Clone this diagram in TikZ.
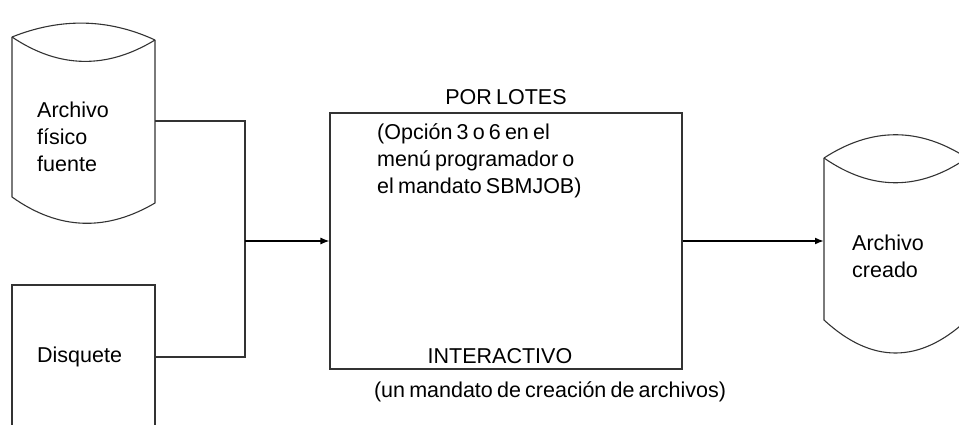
\documentclass[tikz,border=0pt]{standalone}
\usepackage{fontspec}
\setmainfont{Liberation Sans}[WordSpace=0.7]
\usetikzlibrary{arrows.meta,positioning}
\tikzset{
  ln/.style={draw=black!80, line width=1.1pt},
  lbl/.style={font=\fontsize{21.5}{27}\selectfont, align=left, inner sep=0pt},
  arr/.style={-{Latex[length=9pt,width=7pt]}, line width=1.4pt},
}
\begin{document}
\begin{tikzpicture}[x=1pt,y=-1pt]
\pgfmathsetmacro{\cw}{143}
\useasboundingbox (0,0) rectangle (959,425);
\begin{scope}
\clip (0,0) rectangle (959,425);
% source file (cylinder)
\draw[ln] (12,37) .. controls (12+\cw/3,18) and (12+2*\cw/3,18) .. (12+\cw,40);
\draw[ln] (12,37) .. controls (12+\cw/3,69) and (12+2*\cw/3,69) .. (12+\cw,40);
\draw[ln] (12,37) -- (12,197) .. controls (12+\cw/3,231) and (12+2*\cw/3,231) .. (12+\cw,203) -- (12+\cw,40);
\node[lbl, anchor=west] (src) at (37,137) {Archivo\\físico\\fuente};
\coordinate (srcR) at (12+\cw,121);
% diskette
\draw[ln] (12,440) -- (12,285) -- (12+\cw,285) -- (12+\cw,440);
\node[lbl, anchor=west] (dsk) at (37,357) {Disquete};
\coordinate (dskR) at (12+\cw,357);
% created file (cylinder)
\draw[ln] (824,158) .. controls (824+\cw/3,127) and (824+2*\cw/3,127) .. (824+\cw,158);
\draw[ln] (824,158) .. controls (824+\cw/3,191) and (824+2*\cw/3,191) .. (824+\cw,158);
\draw[ln] (824,158) -- (824,320) .. controls (824+\cw/3,364) and (824+2*\cw/3,364) .. (824+\cw,320) -- (824+\cw,158);
\node[lbl, anchor=west] (out) at (852,256) {Archivo\\creado};
\coordinate (outL) at (824,241);
\end{scope}
% job box
\node[ln, minimum width=352pt, minimum height=256pt, inner sep=0pt] (batch) at (506,241) {};
\node[lbl, above=8pt of batch.north] (lotes) {POR LOTES};
\node[lbl, anchor=west] (opt) at (377,161) {(Opción 3 o 6 en el\\menú programador o\\el mandato SBMJOB)};
\node[lbl, above=6pt of batch.south, xshift=-6pt] (inter) {INTERACTIVO};
\node[lbl] (cmd) at (550,392) {(un mandato de creación de archivos)};
% connectors
\coordinate (join) at (245,241);
\draw[ln] (srcR) -| (join);
\draw[ln] (dskR) -| (join);
\draw[arr, line width=1.2pt] (join) -- (batch.west);
\draw[arr, line width=2pt] (batch.east) -- (outL);
\end{tikzpicture}
\end{document}
